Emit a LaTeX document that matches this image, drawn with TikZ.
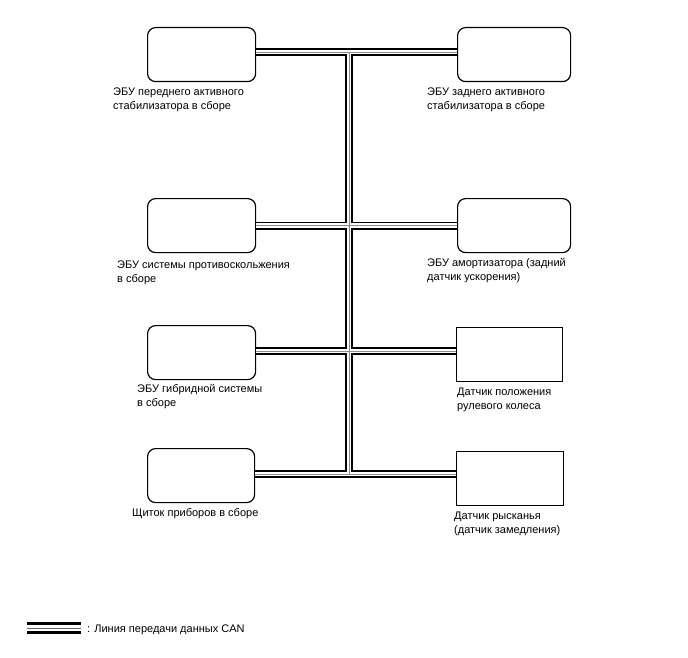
\documentclass[tikz,border=0pt]{standalone}
\usepackage{fontspec}
\setmainfont{Liberation Sans}
\begin{document}
\begin{tikzpicture}[x=1pt,y=-1pt,
  rbox/.style={draw,line width=1.2pt,rounded corners=8pt,minimum width=108pt,minimum height=54pt,inner sep=0pt,anchor=north west},
  sbox/.style={draw,line width=1.2pt,minimum width=106pt,minimum height=54pt,inner sep=0pt,anchor=north west},
  lbl/.style={anchor=north west,inner sep=0pt,align=left,font=\fontsize{11}{14}\selectfont},
  busA/.style={line width=8pt,black,line cap=butt},
  busB/.style={line width=4.4pt,white,line cap=butt},
  busC/.style={line width=0.8pt,black!45,line cap=butt}]
\useasboundingbox (0,0) rectangle (688,658);
% boxes
\node[rbox] (l1) at (147,27) {};
\node[rbox,minimum width=113pt] (r1) at (457,27) {};
\node[rbox] (l2) at (147,198) {};
\node[rbox,minimum width=113pt] (r2) at (457,198) {};
\node[rbox] (l3) at (147,325) {};
\node[sbox] (r3) at (456,327) {};
\node[rbox,minimum width=107pt] (l4) at (147,448) {};
\node[sbox,minimum width=107pt] (r4) at (456,451) {};
% labels
\node[lbl] (t1) at (113,88) {ЭБУ переднего активного\\стабилизатора в сборе};
\node[lbl] (t2) at (427,88) {ЭБУ заднего активного\\стабилизатора в сборе};
\node[lbl] (t3) at (117,261) {ЭБУ системы противоскольжения\\в сборе};
\node[lbl] (t4) at (427,258) {ЭБУ амортизатора (задний\\датчик ускорения)};
\node[lbl] (t5) at (137,384) {ЭБУ гибридной системы\\в сборе};
\node[lbl] (t6) at (457,388) {Датчик положения\\рулевого колеса};
\node[lbl] (t7) at (132,508) {Щиток приборов в сборе};
\node[lbl] (t8) at (454,512) {Датчик рысканья\\(датчик замедления)};
\node[lbl] (t9) at (87,625) {: Линия передачи данных CAN};
% bus
\coordinate (top) at (349,52);
\coordinate (bot) at (349,474);
\foreach \st in {busA,busB,busC}{
  \draw[\st] (l1.east |- top) -- (top -| r1.west)
             (top) -- (bot)
             (l2.east) -- (l2.east -| r2.west)
             (l3.east |- 0,351) -- (r3.west |- 0,351)
             (l4.east |- bot) -- (bot -| r4.west);
}
% legend symbol
\draw[line width=3pt] (27,623.7) -- (81,623.7);
\draw[line width=1pt,black!60] (27,628.5) -- (81,628.5);
\draw[line width=3pt] (27,632.5) -- (81,632.5);
\end{tikzpicture}
\end{document}
